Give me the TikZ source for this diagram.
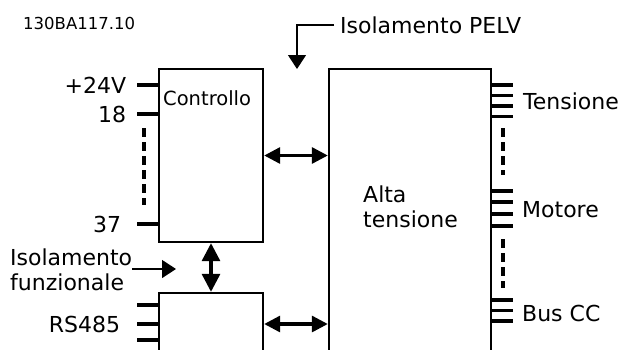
\documentclass[tikz,border=0pt]{standalone}
\usepackage{fontspec}
\setmainfont{DejaVu Sans}
\usepackage{xcolor}
\definecolor{wireBlack}{HTML}{000000}
\usepackage{tikz}
\usetikzlibrary{
  arrows.meta,
  positioning,
  calc
}
\tikzset{
  blockbox/.style={
    rectangle,draw=wireBlack,line width=2.4pt,
    inner sep=0pt
  },
  term/.style={-,line width=3.2pt,color=wireBlack},
  termdash/.style={-,line width=3.2pt,dash pattern=on 9pt off 5pt,color=wireBlack},
  dblarr/.style={{Triangle[length=16pt,width=16pt]}-{Triangle[length=16pt,width=16pt]},line width=3.2pt,color=wireBlack},
  vdblarr/.style={{Triangle[length=18pt,width=18pt]}-{Triangle[length=18pt,width=18pt]},line width=3.2pt,color=wireBlack},
  thinarr/.style={-{Triangle[length=14pt,width=18pt]},line width=1.2pt,color=wireBlack},
  lbl/.style={font=\fontsize{22}{25}\selectfont,inner sep=0pt},
  boxlbl/.style={font=\fontsize{19.5}{23}\selectfont,inner sep=0pt},
  codelbl/.style={font=\fontsize{16.5}{19}\selectfont,inner sep=0pt},
}

\begin{document}
\begin{tikzpicture}[x=1pt,y=-1pt]

\clip (0,0) rectangle (623,349);

%% ── Blocks ───────────────────────────────────────────────
\node[blockbox,minimum width=104pt,minimum height=173pt] (ctrl) at (211,155.5) {};
\node[blockbox,minimum width=104pt,minimum height=62pt]  (rs)   at (211,324) {};
\node[blockbox,minimum width=162pt,minimum height=301pt] (hv)   at (410,219.5) {};

\node[boxlbl,anchor=west] (ctrltxt) at (163,98) {Controllo};
\node[lbl,anchor=west,align=left] (hvtxt) at (363,207) {Alta\\tensione};
\node[codelbl,anchor=west] (code) at (23,23) {130BA117.10};

%% ── Terminals, left ──────────────────────────────────────
\foreach \y/\t/\g in {85/{+24V}/9,114/18/9,224/37/14}{
  \draw[term] (ctrl.west |- 0,\y) -- ++(-21,0) node[lbl,left=\g pt]{\t};
}
\draw[termdash] (144,128) -- (144,205);
\foreach \y in {305,340}{
  \draw[term] (rs.west |- 0,\y) -- ++(-21,0);
}
\draw[term] (rs.west) -- ++(-21,0) node[lbl,left=15pt]{RS485};

%% ── Terminals, right ─────────────────────────────────────
\foreach \y in {85,95.5,106,116.5,191,202,214,226,300,310.5,321}{
  \draw[term] (hv.east |- 0,\y) -- ++(21,0);
}
\draw[termdash] (503,128) -- (503,175);
\draw[termdash] (503,239) -- (503,288);
\node[lbl,anchor=west] (tens) at (523,101) {Tensione};
\node[lbl,anchor=west] (mot)  at (522,210) {Motore};
\node[lbl,anchor=west] (bus)  at (522,313) {Bus CC};

%% ── Links ────────────────────────────────────────────────
\draw[dblarr] (ctrl.east) -- (ctrl.east -| hv.west);
\draw[dblarr] (rs.east) -- (rs.east -| hv.west);
\draw[vdblarr] (ctrl.south) -- (rs.north);

%% ── Isolation marks ──────────────────────────────────────
\node[lbl,anchor=west,inner xsep=6pt] (pelv) at (334,25) {Isolamento PELV};
\coordinate (pelvtip) at (297,69);
\draw[thinarr] (pelv.west) -| (pelvtip);

\node[lbl,anchor=west,align=left] (isof) at (10,270) {Isolamento\\funzionale};
\coordinate (isotip) at (176,269);
\draw[thinarr] (isof.east |- isotip) -- (isotip);

\end{tikzpicture}
\end{document}
